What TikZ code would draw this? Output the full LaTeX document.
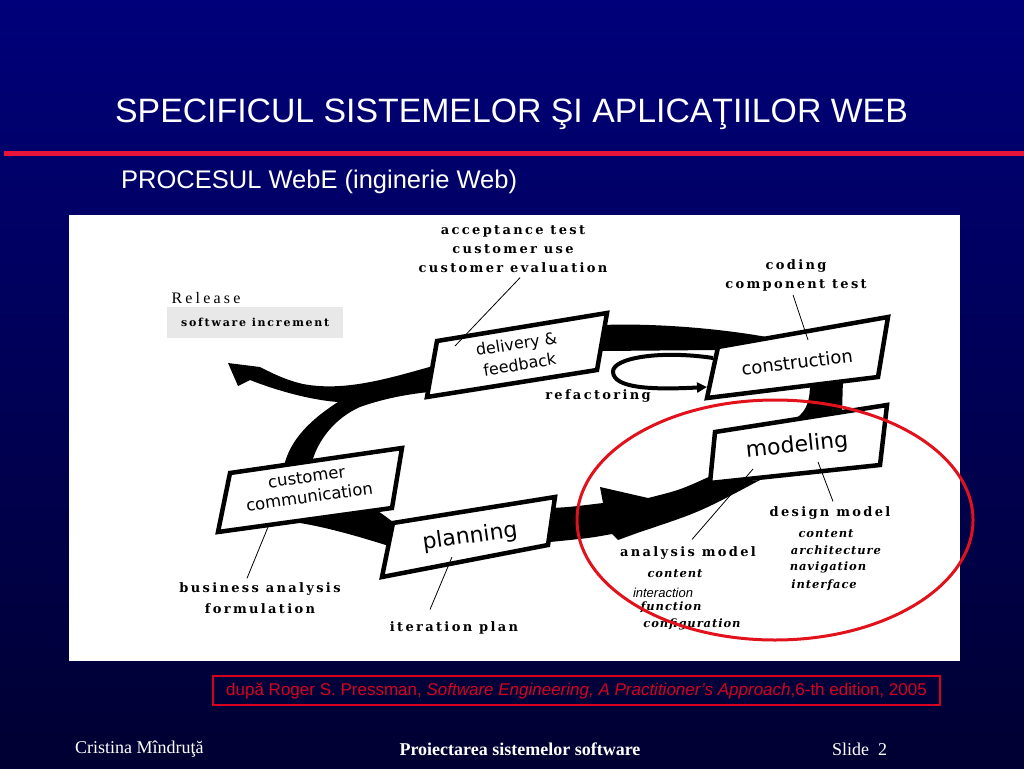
\documentclass[tikz,border=0pt]{standalone}
\usepackage{fontspec}
\setmainfont{Liberation Serif}
\newfontfamily\arialfont{Liberation Sans}
\newfontfamily\phasefont{DejaVu Sans}
\newfontfamily\spacedfont[LetterSpace=18]{DejaVu Serif}
\usetikzlibrary{arrows.meta,calc}
\definecolor{slidetop}{RGB}{0,0,122}
\definecolor{slidebottom}{RGB}{0,0,50}
\definecolor{rulered}{RGB}{232,20,60}
\definecolor{ovalred}{RGB}{225,18,28}
\definecolor{citered}{RGB}{215,0,30}
\definecolor{panelgrey}{RGB}{232,232,232}
\tikzstyle{phasebox} = [draw=black, fill=white, line width=4.5pt, line join=miter]
\tikzstyle{phasetext} = [font=\phasefont, align=center, inner sep=0pt]
\tikzstyle{tasklabel} = [font=\spacedfont\bfseries\fontsize{13}{19}\selectfont, align=center, inner sep=0pt]
\tikzstyle{itemlabel} = [font=\spacedfont\bfseries\itshape\addfontfeature{LetterSpace=8}\fontsize{11.5}{16}\selectfont, inner sep=0pt]
\tikzstyle{leader} = [draw=black, line width=0.8pt]
\tikzstyle{band} = [fill=black]
\tikzstyle{slidetext} = [text=white, inner sep=0pt]

\begin{document}
\begin{tikzpicture}[x=1pt,y=-1pt]
    \shade[top color=slidetop, bottom color=slidebottom] (0,0) rectangle (1024,768);
    \useasboundingbox (0,0) rectangle (1024,768);

    \node[slidetext, anchor=west, font=\arialfont\fontsize{33.8}{40}\selectfont] (title) at (115,114) {SPECIFICUL SISTEMELOR ŞI APLICAŢIILOR WEB};
    \draw[rulered, line width=5pt] (4,153) -- (1024,153);
    \node[slidetext, anchor=west, font=\arialfont\fontsize{25.5}{30}\selectfont] (subtitle) at (121,182) {PROCESUL WebE (inginerie Web)};

    \fill[white] (69,215) rectangle (960,661);

    % bands of the process loop
    \fill[band] (603,325) .. controls (650,323) and (720,328) .. (772,338) -- (716,350) -- (602,351) -- cycle;
    \fill[band] (810,383) -- (843,379) -- (842,413) -- (790,422) .. controls (805,414) and (810,405) .. (810,383) -- cycle;
    \fill[band] (552,508) .. controls (570,507) .. (603,503) -- (600,487) -- (648,498) .. controls (680,490) .. (713,475)
        -- (711,484) -- (760,480) .. controls (700,512) .. (640,532) -- (618,540) -- (612,534) .. controls (590,538) .. (550,542) -- cycle;
    \fill[band] (433,366) .. controls (390,378) and (345,392) .. (303,384) .. controls (285,380) and (270,372) .. (260,367)
        -- (228,363) -- (238,386) -- (250,380) .. controls (275,390) and (310,400) .. (338,402)
        .. controls (310,420) and (290,440) .. (284,466) -- (312,462) .. controls (318,440) and (335,418) .. (360,407)
        .. controls (385,398) and (410,394) .. (429,392) -- cycle;
    \fill[band] (300,521) -- (378,511) .. controls (385,516) .. (397,525) -- (389,546) .. controls (360,537) and (330,528) .. (300,523) -- cycle;

    \draw[phasebox] (437,341) -- (607,313) -- (597,370) -- (427,397) -- cycle;
    \draw[phasebox] (718,347) -- (888,317) -- (878,377) -- (707,398) -- cycle;
    \draw[phasebox] (715,432) -- (887,405) -- (880,465) -- (710,483) -- cycle;
    \draw[phasebox] (230,473) -- (402,448) -- (392,508) -- (218,532) -- cycle;
    \draw[phasebox] (393,523) -- (555,497) -- (548,545) -- (382,577) -- cycle;

    \node[phasetext, rotate=9, font=\phasefont\fontsize{16}{21}\selectfont] (deliv) at (518,354) {delivery \&\\feedback};
    \node[phasetext, rotate=7, font=\phasefont\fontsize{18}{20}\selectfont] (constr) at (797,362) {construction};
    \node[phasetext, rotate=6, font=\phasefont\fontsize{22}{24}\selectfont] (model) at (797,446) {modeling};
    \node[phasetext, rotate=8, font=\phasefont\fontsize{16.5}{20}\selectfont] (custcomm) at (308,487) {customer\\communication};
    \node[phasetext, rotate=8, font=\phasefont\fontsize{22}{24}\selectfont] (plan) at (470,537) {planning};

    \coordinate (constr-in) at (713,358);
    \coordinate (constr-back) at (707,387);
    \draw[line width=4pt, -{Triangle[length=10pt,width=10pt]}] (constr-in) .. controls (660,350) and (612,358) .. (613,372)
        .. controls (614,388) and (650,390) .. (constr-back);

    \node[tasklabel] (accept) at (513,249) {acceptance test\\customer use\\customer evaluation};
    \node[inner sep=0pt, font=\addfontfeature{LetterSpace=20}\fontsize{16}{18}\selectfont] (release) at (206,298) {Release};
    \node[fill=panelgrey, anchor=west, minimum width=176, minimum height=31, inner xsep=9pt, font=\spacedfont\bfseries\addfontfeature{LetterSpace=16}\fontsize{11}{13}\selectfont, align=left] (increment) at (167,322.5) {software increment};
    \node[tasklabel] (coding) at (796,275) {coding\\component test};
    \node[tasklabel] (refactor) at (598,396) {refactoring};
    \node[tasklabel, font=\spacedfont\bfseries\fontsize{13}{21}\selectfont] (business) at (260,598) {business analysis\\formulation};
    \node[tasklabel] (iteration) at (454,628) {iteration plan};
    \node[tasklabel] (analysis) at (688,553) {analysis model};
    \node[itemlabel] (acontent) at (675,574) {content};
    \node[inner sep=0pt, font=\arialfont\itshape\fontsize{13}{14}\selectfont] (ainteract) at (663,593) {interaction};
    \node[itemlabel] (afunction) at (671,607) {function};
    \node[itemlabel] (aconfig) at (692,624) {configuration};
    \node[tasklabel] (design) at (830,513) {design model};
    \node[itemlabel] (dcontent) at (826,534) {content};
    \node[itemlabel] (darch) at (836,550) {architecture};
    \node[itemlabel] (dnav) at (828,567) {navigation};
    \node[itemlabel] (dinter) at (824,585) {interface};

    \coordinate (deliv-pin) at (455,346);
    \coordinate (constr-pin) at (808,340);
    \coordinate (custcomm-pin) at (268,527);
    \coordinate (plan-pin) at (452,557);
    \coordinate (model-pin-a) at (753,469);
    \coordinate (model-pin-d) at (818,462);
    \draw[leader] ($(accept.south)+(7,5)$) -- (deliv-pin);
    \draw[leader] ($(coding.south)+(-3,4)$) -- (constr-pin);
    \draw[leader] ($(business.north)+(-13,-4)$) -- (custcomm-pin);
    \draw[leader] ($(iteration.north)+(-24,-12)$) -- (plan-pin);
    \draw[leader] ($(analysis.north)+(4,-7)$) -- (model-pin-a);
    \draw[leader] ($(design.north)+(3,-5)$) -- (model-pin-d);

    \draw[ovalred, line width=3pt] (775,520) ellipse [x radius=198, y radius=120];

    \node[draw=citered, line width=1.2pt, minimum width=727, minimum height=29, inner sep=0pt, text=citered, font=\arialfont\fontsize{17}{19}\selectfont] (cite) at (576.5,690.5) {după Roger S. Pressman, \textit{Software Engineering, A Practitioner’s Approach},6-th edition, 2005};

    \node[slidetext, anchor=west, font=\fontsize{18}{20}\selectfont] (author) at (75,749) {Cristina Mîndruţă};
    \node[slidetext, font=\bfseries\fontsize{18}{20}\selectfont] (course) at (520,749) {Proiectarea sistemelor software};
    \node[slidetext, anchor=west, font=\fontsize{18}{20}\selectfont] (slide) at (832,749) {Slide~~2};
\end{tikzpicture}
\end{document}
